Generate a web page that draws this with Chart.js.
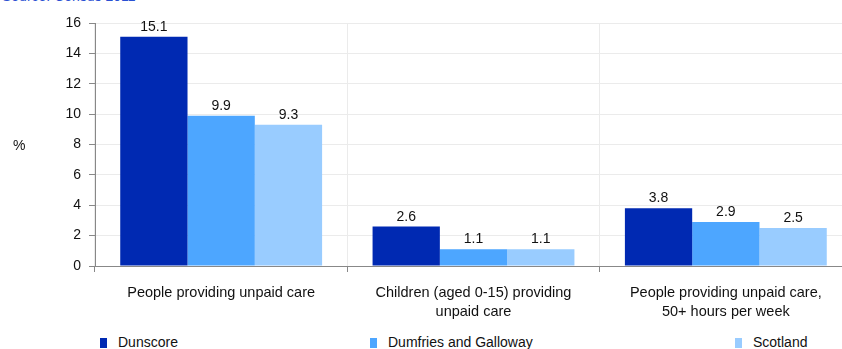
<!DOCTYPE html>
<html>
<head>
<meta charset="utf-8">
<script src="https://cdn.jsdelivr.net/npm/chart.js@4"></script>
<style>
  html, body { margin: 0; padding: 0; background: #fff; overflow: hidden; }
  body { width: 842px; height: 349px; position: relative; font-family: "Liberation Sans", Arial, sans-serif; }
  #source { position: absolute; left: 2px; top: -12px; font-size: 14px; line-height: 16px; color: #2a50d2; white-space: nowrap; }
  #wrap { position: absolute; left: 0; top: 0; width: 852px; height: 325px; }
  #legend { position: absolute; left: 0; top: 334px; width: 842px; height: 16px; font-size: 14px; line-height: 16px; color: #111; }
  .item { position: absolute; top: 0; white-space: nowrap; }
  .box { display: inline-block; width: 7px; height: 10px; margin-right: 11px; vertical-align: -1px; }
</style>
</head>
<body>
<div id="source">Source: Census 2011</div>
<div id="wrap"><canvas id="grafico"></canvas></div>
<div id="legend"></div>
<script>
// datos
const categorias = [
  "People providing unpaid care",
  ["Children (aged 0-15) providing", "unpaid care"],
  ["People providing unpaid care,", "50+ hours per week"]
];
const series = ["Dunscore", "Dumfries and Galloway", "Scotland"];
const dunscore = [15.1, 2.6, 3.8];
const dumfries = [9.9, 1.1, 2.9];
const scotland = [9.3, 1.1, 2.5];
const ticksY = [0, 2, 4, 6, 8, 10, 12, 14, 16];

const colores = ["#0029b2", "#4da6ff", "#99ccff"];
const valores = [dunscore, dumfries, scotland];
const fuente = "'Liberation Sans', Arial, sans-serif";

// etiquetas de valor encima de las barras
const etiquetas = {
  id: "etiquetas",
  afterDatasetsDraw(chart) {
    const ctx = chart.ctx;
    ctx.save();
    ctx.font = "14px " + fuente;
    ctx.fillStyle = "#111";
    ctx.textAlign = "center";
    ctx.textBaseline = "alphabetic";
    chart.data.datasets.forEach((ds, i) => {
      chart.getDatasetMeta(i).data.forEach((bar, j) => {
        ctx.fillText(ds.data[j].toFixed(1), bar.x, bar.y - 6);
      });
    });
    // simbolo de porcentaje del eje
    const a = chart.chartArea;
    ctx.textAlign = "left";
    ctx.textBaseline = "middle";
    ctx.fillText("%", 13, (a.top + a.bottom) / 2 + 2);
    ctx.restore();
  }
};

new Chart(document.getElementById("grafico").getContext("2d"), {
  type: "bar",
  data: {
    labels: categorias,
    datasets: series.map((nombre, i) => ({
      label: nombre,
      data: valores[i],
      backgroundColor: colores[i],
      categoryPercentage: 0.8,
      barPercentage: 1
    }))
  },
  options: {
    responsive: true,
    maintainAspectRatio: false,
    animation: false,
    layout: { padding: { top: 23, left: 0, right: 0, bottom: 0 } },
    plugins: {
      legend: { display: false },
      tooltip: { enabled: false }
    },
    scales: {
      x: {
        grid: { color: "#ebebeb", tickColor: "#888", tickLength: 6, offset: true },
        border: { color: "#888" },
        ticks: { color: "#111", padding: 12, font: { family: fuente, size: 14.5, lineHeight: 1.28 }, maxRotation: 0 },
        afterFit: s => { s.height = 325 - 266; }
      },
      y: {
        min: 0,
        max: 16,
        afterBuildTicks: s => { s.ticks = ticksY.map(v => ({ value: v })); },
        grid: { color: "#ebebeb", tickColor: "#888", tickLength: 6 },
        border: { color: "#888" },
        ticks: { color: "#111", padding: 8, font: { family: fuente, size: 14 } },
        afterFit: s => { s.width = 95; }
      }
    }
  },
  plugins: [etiquetas]
});

// leyenda
const posLeyenda = [100, 370, 735];
const leyenda = document.getElementById("legend");
series.forEach((nombre, i) => {
  const el = document.createElement("div");
  el.className = "item";
  el.style.left = posLeyenda[i] + "px";
  el.innerHTML = '<span class="box" style="background:' + colores[i] + '"></span>' + nombre;
  leyenda.appendChild(el);
});
</script>
</body>
</html>
